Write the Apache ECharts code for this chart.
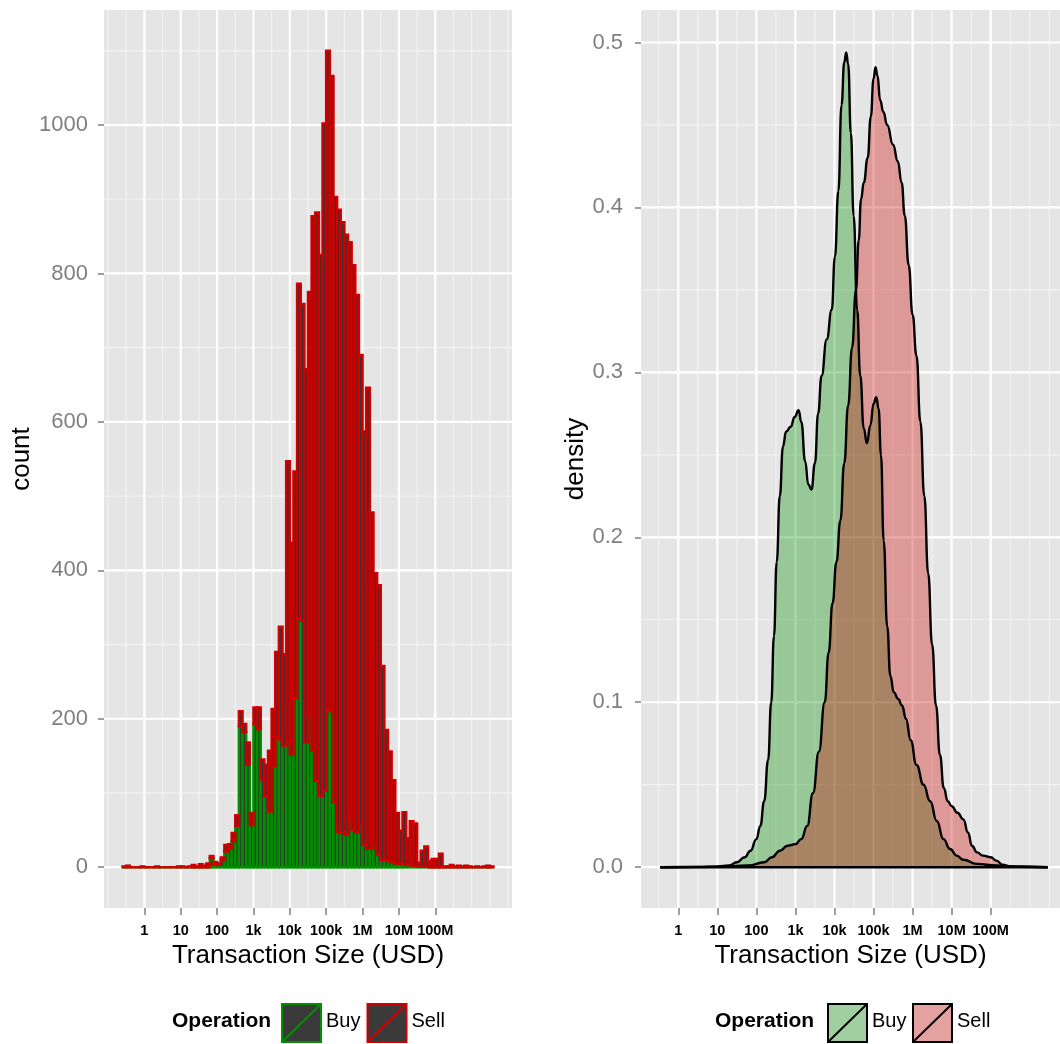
<!DOCTYPE html>
<html><head><meta charset="utf-8">
<script src="https://cdn.jsdelivr.net/npm/echarts@6/dist/echarts.min.js"></script>
<style>html,body{margin:0;padding:0;background:#fff}#c{width:1060px;height:1044px}</style>
</head><body><div id="c"></div>
<script>
// ---------- data ----------
const tickValues = [0, 1, 2, 3, 4, 5, 6, 7, 8];           // log10(USD)
const tickLabels = ['1', '10', '100', '1k', '10k', '100k', '1M', '10M', '100M'];
const countTicks = [0, 200, 400, 600, 800, 1000];
const densityTicks = [0, 0.1, 0.2, 0.3, 0.4, 0.5];
const binWidth = 0.1;
const binMids = [
  -0.55,-0.45,-0.35,-0.25,-0.15,-0.05,0.05,0.15,0.25,0.35,
  0.45,0.55,0.65,0.75,0.85,0.95,1.05,1.15,1.25,1.35,
  1.45,1.55,1.65,1.75,1.85,1.95,2.05,2.15,2.25,2.35,
  2.45,2.55,2.65,2.75,2.85,2.95,3.05,3.15,3.25,3.35,
  3.45,3.55,3.65,3.75,3.85,3.95,4.05,4.15,4.25,4.35,
  4.45,4.55,4.65,4.75,4.85,4.95,5.05,5.15,5.25,5.35,
  5.45,5.55,5.65,5.75,5.85,5.95,6.05,6.15,6.25,6.35,
  6.45,6.55,6.65,6.75,6.85,6.95,7.05,7.15,7.25,7.35,
  7.45,7.55,7.65,7.75,7.85,7.95,8.05,8.15,8.25,8.35,
  8.45,8.55,8.65,8.75,8.85,8.95,9.05,9.15,9.25,9.35,
  9.45,9.55
];
const buyCounts = [
  0,0,0,0,0,0,0,0,0,0,
  0,0,0,0,0,0,0,0,0,0,
  0,0,0,0,12,4,3,9,21,25,
  35,55,190,182,138,57,193,186,118,96,
  75,136,175,172,164,168,152,228,335,332,
  168,205,157,116,96,103,212,210,87,47,
  46,44,65,50,47,57,30,25,33,25,
  17,10,10,8,6,5,5,4,3,3,
  2,1,1,1,0,0,0,0,0,0,
  0,0,0,0,0,0,0,0,0,0,
  0,0
];
const sellCounts = [
  1,2,0,0,0,1,0,0,0,1,
  0,0,0,0,0,1,1,0,1,3,
  1,4,2,5,3,3,2,4,9,6,
  11,15,20,11,30,16,22,29,27,42,
  82,77,115,152,123,379,285,305,451,427,
  503,570,720,766,729,899,888,856,816,839,
  823,808,777,761,724,633,557,621,445,371,
  363,261,175,148,111,68,44,70,36,59,
  57,5,21,27,8,11,11,18,1,1,
  3,1,2,1,2,1,0,1,0,1,
  2,1
];
const buyDensity = [
  [-0.46,0],[0.5,0.0002],[1.0,0.0005],[1.3,0.001],[1.5,0.003],[1.7,0.006],[1.85,0.01],[2.0,0.017],
  [2.1,0.025],[2.2,0.04],[2.3,0.065],[2.38,0.1],[2.45,0.14],[2.52,0.185],[2.6,0.225],[2.68,0.255],
  [2.76,0.264],[2.88,0.267],[2.98,0.273],[3.08,0.277],[3.15,0.27],[3.25,0.246],[3.33,0.232],[3.41,0.229],
  [3.5,0.245],[3.58,0.275],[3.67,0.298],[3.8,0.32],[3.93,0.338],[4.01,0.37],[4.1,0.41],[4.18,0.462],
  [4.25,0.488],[4.3,0.494],[4.35,0.487],[4.42,0.445],[4.49,0.395],[4.58,0.338],[4.66,0.298],[4.75,0.266],
  [4.83,0.257],[4.92,0.268],[5.0,0.281],[5.07,0.285],[5.13,0.278],[5.19,0.25],[5.26,0.198],[5.35,0.146],
  [5.43,0.116],[5.52,0.106],[5.63,0.102],[5.73,0.098],[5.83,0.09],[5.95,0.077],[6.1,0.062],[6.28,0.05],
  [6.45,0.04],[6.62,0.028],[6.79,0.017],[6.96,0.011],[7.13,0.007],[7.3,0.0045],[7.64,0.002],[8.16,0.001],
  [8.8,0.0003],[9.46,0]
];
const sellDensity = [
  [-0.46,0],[1.0,0.0002],[1.8,0.001],[2.2,0.003],[2.4,0.006],[2.6,0.01],[2.8,0.013],[3.0,0.014],
  [3.15,0.017],[3.3,0.025],[3.45,0.045],[3.6,0.07],[3.75,0.1],[3.85,0.13],[3.95,0.16],[4.05,0.185],
  [4.15,0.21],[4.25,0.245],[4.35,0.28],[4.45,0.315],[4.55,0.35],[4.62,0.38],[4.68,0.405],[4.75,0.415],
  [4.85,0.43],[4.93,0.455],[5.0,0.478],[5.05,0.485],[5.1,0.48],[5.17,0.465],[5.25,0.458],[5.35,0.45],
  [5.5,0.438],[5.62,0.428],[5.72,0.415],[5.8,0.395],[5.9,0.365],[6.0,0.335],[6.1,0.31],[6.2,0.27],
  [6.3,0.225],[6.4,0.178],[6.5,0.135],[6.6,0.098],[6.7,0.068],[6.8,0.048],[6.9,0.04],[7.0,0.037],
  [7.15,0.033],[7.3,0.029],[7.42,0.021],[7.52,0.013],[7.65,0.009],[7.8,0.007],[8.0,0.006],[8.15,0.004],
  [8.3,0.0015],[8.5,0.0005],[9.46,0]
];

// ---------- style ----------
const FONT = 'Liberation Sans, Arial, Helvetica, sans-serif';
const GREEN = '#009000', RED = '#D00000';
const BG = '#E5E5E5', MINOR = '#F2F2F2';
const L = {xMin: -1.11, xMax: 10.11, yMin: -55, yMax: 1155};
const R = {xMin: -0.955, xMax: 9.775, yMin: -0.02475, yMax: 0.5197};
const majorX = tickValues;
const minorXL = [-1,-0.5,0.5,1.5,2.5,3.5,4.5,5.5,6.5,7.5,8.5,9,9.5,10];
const minorXR = [-0.5,0.5,1.5,2.5,3.5,4.5,5.5,6.5,7.5,8.5,9,9.5];
const minorYL = [100,300,500,700,900,1100];
const minorYR = [0.05,0.15,0.25,0.35,0.45];

function gridLines(gi, vals, dir, lim, color, width) {
  const data = vals.map(v => dir === 'x' ? [v, lim.yMin] : [lim.xMin, v]);
  return {
    type: 'custom', xAxisIndex: gi, yAxisIndex: gi, silent: true, z: 1, clip: true,
    data, encode: {x: 0, y: 1},
    renderItem(params, api) {
      let p1, p2;
      if (dir === 'x') { const v = api.value(0); p1 = api.coord([v, lim.yMin]); p2 = api.coord([v, lim.yMax]); }
      else { const v = api.value(1); p1 = api.coord([lim.xMin, v]); p2 = api.coord([lim.xMax, v]); }
      return {type: 'line', shape: {x1: p1[0], y1: p1[1], x2: p2[0], y2: p2[1]}, style: {stroke: color, lineWidth: width}};
    }
  };
}

const buyRects = binMids.map((m, i) => [m - binWidth / 2, m + binWidth / 2, 0, buyCounts[i]]);
const sellRects = binMids.map((m, i) => [m - binWidth / 2, m + binWidth / 2, buyCounts[i], buyCounts[i] + sellCounts[i]]);
function barSeries(name, data, color) {
  return {
    type: 'custom', name, xAxisIndex: 0, yAxisIndex: 0, z: 3, data,
    encode: {x: [0, 1], y: [2, 3]},
    renderItem(params, api) {
      const a = api.coord([api.value(0), api.value(2)]);
      const b = api.coord([api.value(1), api.value(3)]);
      return {type: 'rect', shape: {x: a[0], y: b[1], width: b[0] - a[0], height: a[1] - b[1]},
        style: {fill: '#333333', stroke: color, lineWidth: 2.5}};
    }
  };
}

function xAxisCfg(gi, lim) {
  return {
    type: 'value', gridIndex: gi, min: lim.xMin, max: lim.xMax,
    splitLine: {show: false}, axisLine: {show: false, onZero: false},
    axisTick: {show: true, customValues: tickValues, length: 7, lineStyle: {color: '#7F7F7F', width: 1.5}},
    axisLabel: {customValues: tickValues, formatter: v => tickLabels[tickValues.indexOf(Math.round(v))],
      fontFamily: FONT, fontWeight: 'bold', fontSize: 14.5, color: '#000', margin: 15},
    name: 'Transaction Size (USD)', nameLocation: 'middle', nameGap: 29,
    nameTextStyle: {fontFamily: FONT, fontSize: 26, color: '#000'}
  };
}
function yAxisCfg(gi, lim, ticks, fmt, name, gap, margin) {
  return {
    type: 'value', gridIndex: gi, min: lim.yMin, max: lim.yMax,
    splitLine: {show: false}, axisLine: {show: false, onZero: false},
    axisTick: {show: true, customValues: ticks, length: 6, lineStyle: {color: '#7F7F7F', width: 1.5}},
    axisLabel: {customValues: ticks, formatter: fmt, fontFamily: FONT, fontSize: 22, color: '#7F7F7F', margin},
    name, nameLocation: 'middle', nameGap: gap,
    nameTextStyle: {fontFamily: FONT, fontSize: 26, color: '#000'}
  };
}

function legend(x0, keys) {
  const els = [{type: 'text', left: x0, top: 1023 - 12, style: {text: 'Operation', font: 'bold 21px ' + FONT, fill: '#000'}}];
  keys.forEach(k => {
    const y = 1004, w = 39, h = 38;
    if (k.bg) els.push({type: 'rect', shape: {x: k.x, y, width: w, height: h}, style: {fill: k.bg}});
    els.push({type: 'rect', shape: {x: k.x, y, width: w, height: h}, style: {fill: k.fill, stroke: k.stroke, lineWidth: 2}});
    els.push({type: 'line', shape: {x1: k.x, y1: y + h, x2: k.x + w, y2: y}, style: {stroke: k.stroke, lineWidth: 2}});
    els.push({type: 'text', left: k.x + w + 5, top: 1023 - 12, style: {text: k.label, font: '20px ' + FONT, fill: '#000'}});
  });
  return els;
}

const chart = echarts.init(document.getElementById('c'), null, {renderer: 'canvas'});
chart.setOption({
  backgroundColor: '#FFFFFF',
  animation: false,
  grid: [
    {left: 104, top: 10, width: 408, height: 898, show: true, backgroundColor: BG, borderWidth: 0, containLabel: false},
    {left: 641, top: 10, width: 419, height: 898, show: true, backgroundColor: BG, borderWidth: 0, containLabel: false}
  ],
  xAxis: [xAxisCfg(0, L), xAxisCfg(1, R)],
  yAxis: [
    yAxisCfg(0, L, countTicks, v => String(Math.round(v)), 'count', 62, 16),
    yAxisCfg(1, R, densityTicks, v => v.toFixed(1), 'density', 47, 18)
  ],
  series: [
    gridLines(0, minorXL, 'x', L, MINOR, 1.2),
    gridLines(0, minorYL, 'y', L, MINOR, 1.2),
    gridLines(0, majorX, 'x', L, '#FFFFFF', 2.2),
    gridLines(0, countTicks, 'y', L, '#FFFFFF', 2.2),
    gridLines(1, minorXR, 'x', R, MINOR, 1.2),
    gridLines(1, minorYR, 'y', R, MINOR, 1.2),
    gridLines(1, majorX, 'x', R, '#FFFFFF', 2.2),
    gridLines(1, densityTicks, 'y', R, '#FFFFFF', 2.2),
    barSeries('Buy', buyRects, GREEN),
    barSeries('Sell', sellRects, RED),
    {type: 'line', name: 'Buy', xAxisIndex: 1, yAxisIndex: 1, z: 3, data: buyDensity,
      smooth: 0.5, smoothMonotone: 'x', symbol: 'none',
      lineStyle: {color: '#000', width: 2.4}, areaStyle: {color: 'rgba(0,139,0,0.336)', opacity: 1}},
    {type: 'line', name: 'Sell', xAxisIndex: 1, yAxisIndex: 1, z: 3, data: sellDensity,
      smooth: 0.5, smoothMonotone: 'x', symbol: 'none',
      lineStyle: {color: '#000', width: 2.4}, areaStyle: {color: 'rgba(205,0,0,0.336)', opacity: 1}},
    {type: 'line', xAxisIndex: 1, yAxisIndex: 1, z: 4, symbol: 'none', silent: true,
      data: [[buyDensity[0][0], 0], [buyDensity[buyDensity.length - 1][0], 0]],
      lineStyle: {color: '#000', width: 2.4}}
  ],
  graphic: legend(172, [
    {x: 282, fill: '#3A3A3A', stroke: GREEN, label: 'Buy'},
    {x: 367.5, fill: '#3A3A3A', stroke: RED, label: 'Sell'}
  ]).concat(legend(715, [
    {x: 828, bg: '#F2F2F2', fill: 'rgba(0,139,0,0.336)', stroke: '#000', label: 'Buy'},
    {x: 913, bg: '#F2F2F2', fill: 'rgba(205,0,0,0.336)', stroke: '#000', label: 'Sell'}
  ]))
});
</script></body></html>
